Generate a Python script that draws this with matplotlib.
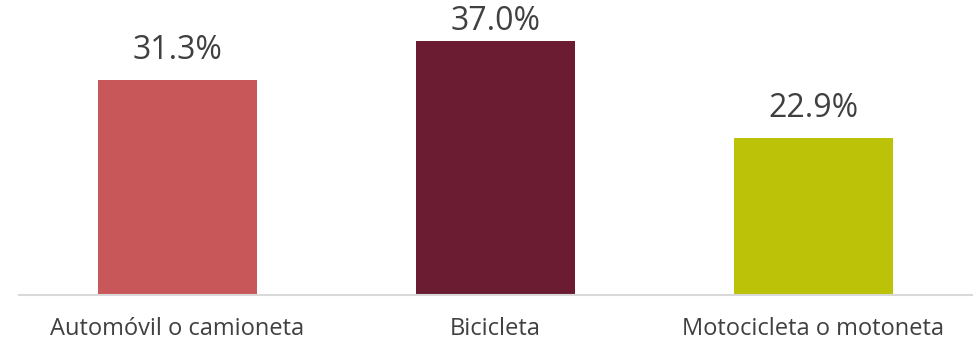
import matplotlib
matplotlib.use('Agg')
import matplotlib.pyplot as plt

categories = ['Automóvil o camioneta', 'Bicicleta', 'Motocicleta o motoneta']
values = [31.3, 37.0, 22.9]
colors = ['#C8575A', '#6B1C33', '#BCC208']

plt.rcParams['font.family'] = ['Open Sans', 'DejaVu Sans']
TEXT = '#404040'
YMAX = 43.0

fig = plt.figure(figsize=(9.79, 3.44), dpi=100)
ax = fig.add_axes([18.5 / 979, 1 - 295 / 344, 954 / 979, 295 / 344])

x = range(len(categories))
bars = ax.bar(x, values, width=0.5, color=colors, zorder=2)
for b, v in zip(bars, values):
    # keep the label inside the figure, like the source does for the tallest bar
    ty = min(v + 3.1, YMAX - 4.4)
    ax.text(b.get_x() + b.get_width() / 2, ty, f'{v:.1f}%',
            ha='center', va='baseline', fontsize=23, color=TEXT)

ax.set_xlim(-0.5, 2.5)
ax.set_ylim(0, YMAX)
ax.set_xticks(list(x))
ax.set_xticklabels(categories, fontsize=17, color=TEXT)
ax.tick_params(axis='x', length=0, pad=16)
ax.set_yticks([])
for s in ('top', 'right', 'left'):
    ax.spines[s].set_visible(False)
ax.spines['bottom'].set_color('#D9D9D9')
ax.spines['bottom'].set_linewidth(1.5)

fig.savefig('out.png', dpi=100)
